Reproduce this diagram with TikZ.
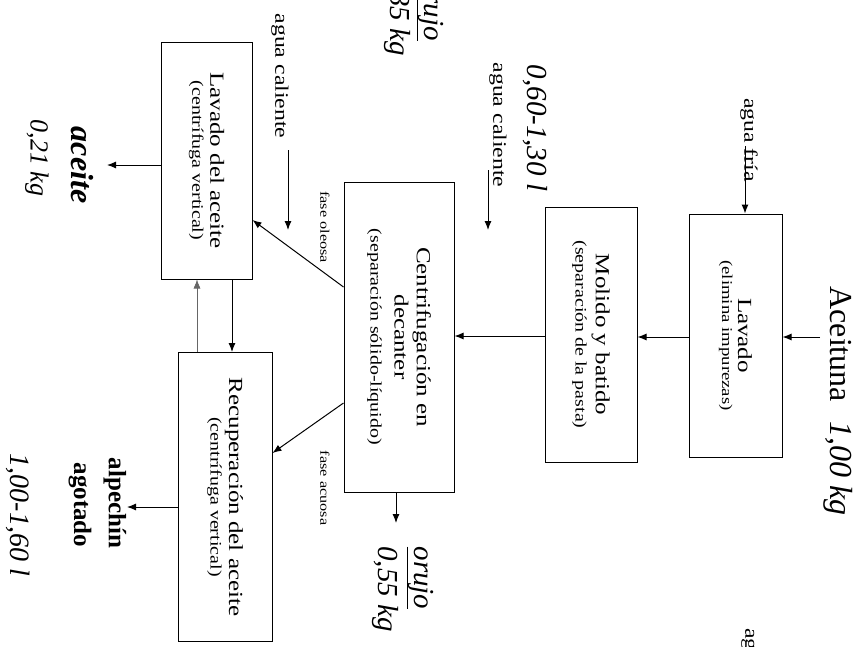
\documentclass[tikz,border=0pt]{standalone}
\usepackage{fontspec}
\setmainfont{Liberation Serif}[FakeStretch=1.25]
\newfontfamily\plain{Liberation Serif}
\usetikzlibrary{arrows.meta}
\newcommand\fsz[2]{\fontsize{#1}{#2}\selectfont}
\tikzset{
  box/.style={draw, line width=1pt, rotate=-90, align=center, inner sep=0pt},
  lbl/.style={rotate=-90, inner sep=0pt},
  arr/.style={line width=1pt, -{Latex[length=9pt,width=7pt]}},
  thinarr/.style={line width=0.6pt, draw=black!60, -{Latex[length=9pt,width=7pt]}},
}
\begin{document}
\begin{tikzpicture}[x=1pt,y=-1pt]
\useasboundingbox (0,0) rectangle (862,646);
\clip (0,0) rectangle (862,646);
\fill[white] (0,0) rectangle (862,646);

% boxes
\node[box, minimum width=243pt, minimum height=93pt] (lav) at (735.5,335.5)
  {\fsz{20}{25}Lavado\\[4pt]\fsz{15}{17}(elimina impurezas)};
\node[box, minimum width=255pt, minimum height=92pt] (mol) at (591,334.5)
  {\fsz{20}{25}Molido y batido\\[4pt]\fsz{16}{18}(separación de la pasta)};
\node[box, minimum width=310pt, minimum height=110pt] (cen) at (399,337)
  {\fsz{20}{26}Centrifugación en\\[3pt]\fsz{20}{26}decanter\\[12pt]\fsz{16}{18}(separación sólido-líquido)};
\node[box, minimum width=237pt, minimum height=91pt] (lda) at (206.5,160.5)
  {\fsz{20}{25}Lavado del aceite\\[6pt]\fsz{16}{18}(centrífuga vertical)};
\node[box, minimum width=289pt, minimum height=94pt] (rec) at (225,497)
  {\fsz{20}{25}Recuperación del aceite\\[2pt]\fsz{16}{18}(centrífuga vertical)};

% labels
\node[lbl, font=\plain\fsz{32}{36}] (aceit) at (838,401) {Aceituna\hspace{0.6em}\textit{1,00 kg}};
\node[lbl, font=\fsz{19}{22}] (tfria) at (749,140) {agua fría};
\node[lbl, font=\fsz{19}{22}, anchor=west] (tfria2) at (750,628) {agua fría};
\node[lbl, font=\plain\fsz{29}{32}\itshape] (tq1) at (535,128) {0,60-1,30 l};
\node[lbl, font=\fsz{19}{22}] (tac1) at (498,125) {agua caliente};
\node[lbl, font=\fsz{19}{22}] (tac2) at (280,76) {agua caliente};
\node[lbl, font=\plain\fsz{32}{36}\bfseries\itshape] (tace) at (82,165) {aceite};
\node[lbl, font=\plain\fsz{26}{30}\itshape] (tacev) at (37,158) {0,21 kg};
\node[lbl, font=\fsz{13}{15}] (tfo) at (325,227) {fase oleosa};
\node[lbl, font=\fsz{13}{15}] (tfa) at (325,488) {fase acuosa};
\node[lbl, font=\plain\fsz{29}{32}\itshape] (toru) at (420,578) {\underline{orujo}};
\node[lbl, font=\plain\fsz{29}{32}\itshape] (toruv) at (385,589) {0,55 kg};
\node[lbl, font=\plain\fsz{29}{32}\itshape] (toru2) at (430,9.5) {\underline{orujo}};
\node[lbl, font=\plain\fsz{29}{32}\itshape] (toru2v) at (397,13) {0,35 kg};
\node[lbl, font=\plain\fsz{25}{28}\bfseries] (talp) at (115,503) {alpechín};
\node[lbl, font=\plain\fsz{25}{28}\bfseries] (tago) at (80,505) {agotado};
\node[lbl, font=\plain\fsz{28}{32}\itshape] (talpv) at (18,515) {1,00-1,60 l};

% coordinates
\coordinate (ain) at (820,337);
\coordinate (h1) at (0,337);
\coordinate (h2) at (0,336);
\coordinate (af) at (745,146);
\coordinate (ac1s) at (488,170);
\coordinate (ac1e) at (488,230);
\coordinate (ac2s) at (288,150);
\coordinate (ac2e) at (288,230);
\coordinate (oru) at (396,523);
\coordinate (aout) at (107,165);
\coordinate (alpout) at (127,507);
\coordinate (xup) at (197,0);
\coordinate (xdn) at (232,0);
\coordinate (yo1) at (0,287);
\coordinate (yo2) at (0,220);
\coordinate (ya1) at (0,403);
\coordinate (ya2) at (0,453);

% connectors
\draw[arr] (ain) -- (ain -| lav.north);
\draw[arr] (af) -- (af |- lav.west);
\draw[arr] (lav.south |- h1) -- (mol.north |- h1);
\draw[arr] (mol.south |- h2) -- (cen.north |- h2);
\draw[arr] (ac1s) -- (ac1e);
\draw[arr] (ac2s) -- (ac2e);
\draw[arr] (oru |- cen.east) -- (oru);
\draw[arr] (cen.south |- yo1) -- (lda.north |- yo2);
\draw[arr] (cen.south |- ya1) -- (rec.north |- ya2);
\draw[arr] (aout -| lda.south) -- (aout);
\draw[arr] (alpout -| rec.south) -- (alpout);
\draw[thinarr] (xup |- rec.west) -- (xup |- lda.east);
\draw[arr] (xdn |- lda.east) -- (xdn |- rec.west);
\end{tikzpicture}
\end{document}
